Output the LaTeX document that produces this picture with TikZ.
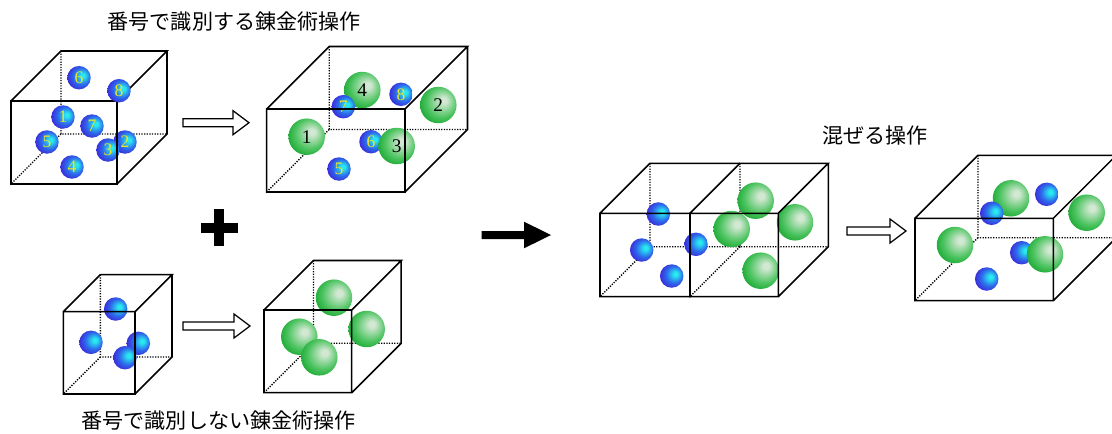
\documentclass[tikz,border=0pt]{standalone}
\usepackage{fontspec}
\newfontfamily\jpfont{Noto Sans CJK JP}
\newfontfamily\numfont{Liberation Serif}
\definecolor{numyellow}{RGB}{235,230,40}
\definecolor{hlblue}{RGB}{40,232,240}
\definecolor{bodyblue}{RGB}{45,105,235}
\definecolor{edgeblue}{RGB}{60,40,215}
\definecolor{hlgreen}{RGB}{210,232,210}
\definecolor{bodygreen}{RGB}{75,195,95}
\definecolor{edgegreen}{RGB}{20,165,45}
\pgfdeclareradialshading{bluesph}{\pgfpoint{9bp}{5bp}}{color(0bp)=(hlblue); color(4bp)=(hlblue); color(18bp)=(bodyblue); color(30bp)=(edgeblue); color(50bp)=(edgeblue)}
\pgfdeclareradialshading{greensph}{\pgfpoint{8bp}{7bp}}{color(0bp)=(hlgreen); color(4bp)=(hlgreen); color(21bp)=(bodygreen); color(32bp)=(edgegreen); color(50bp)=(edgegreen)}
\newcommand{\cubehid}[5]{\draw[hid] (#1+#5,#2-#5) -- (#1+#5,#4-#5) -- (#3+#5,#4-#5) (#1+#5,#4-#5) -- (#1,#4);}
\newcommand{\cubeedge}[5]{\draw[edge] (#1,#2) rectangle (#3,#4) (#1,#2) -- (#1+#5,#2-#5) -- (#3+#5,#2-#5) -- (#3,#2) (#3+#5,#2-#5) -- (#3+#5,#4-#5) -- (#3,#4);}
\newcommand{\hollowarr}[3]{\draw[harrow] (#1,#2-4) -- (#3-16,#2-4) -- (#3-16,#2-12) -- (#3,#2) -- (#3-16,#2+12) -- (#3-16,#2+4) -- (#1,#2+4) -- cycle;}
\tikzset{
  edge/.style={line width=0.9pt},
  hid/.style={line width=0.8pt,dash pattern=on 0.7pt off 0.8pt},
  harrow/.style={line width=0.7pt,fill=white},
  bb/.style={circle,inner sep=0pt,minimum size=0.47cm,shade,shading=bluesph,text=numyellow,font=\numfont\fontsize{10}{10}\selectfont},
  gb/.style={circle,inner sep=0pt,minimum size=0.73cm,shade,shading=greensph,text=black,font=\numfont\fontsize{11}{11}\selectfont},
  lbl/.style={font=\jpfont\fontsize{12}{14}\selectfont}
}
\begin{document}
\begin{tikzpicture}[x=0.02cm,y=-0.02cm]
\useasboundingbox (0,0) rectangle (1112,433);
\node[lbl] (t1) at (234.2,22) {番号で識別する錬金術操作};
\node[lbl] (t2) at (218.7,421) {番号で識別しない錬金術操作};
\node[lbl] (t3) at (875.2,135.7) {混ぜる操作};
\cubehid{11}{101}{117}{184}{50}
\node[bb] (a6) at (79,77.7) {6};
\node[bb] (a1) at (63,117) {1};
\node[bb] (a7) at (92,126) {7};
\node[bb] (a5) at (47,142) {5};
\node[bb] (a2) at (125,142) {2};
\node[bb] (a3) at (108,150) {3};
\node[bb] (a4) at (72,167) {4};
\cubeedge{11}{101}{117}{184}{50}
\node[bb] (a8) at (119,90.7) {8};
\hollowarr{183}{122.7}{249}
\cubehid{266.7}{109}{405}{192}{62.5}
\node[gb] (b4) at (362.3,90) {4};
\node[bb] (b7) at (343.3,106.7) {7};
\node[bb] (b8) at (401,94.3) {8};
\node[gb] (b2) at (438.3,105) {2};
\node[gb] (b1) at (306.7,136.7) {1};
\node[bb] (b6) at (371,141.7) {6};
\node[gb] (b3) at (396.7,146) {3};
\node[bb] (b5) at (339,169) {5};
\cubeedge{266.7}{109}{405}{192}{62.5}
\fill (200.7,222.7) rectangle (237.7,232.7);
\fill (214,209) rectangle (224,245.7);
\cubehid{63.3}{311.7}{135}{394}{37}
\node[bb] (c1) at (115.7,309) {};
\node[bb] (c2) at (91,342.3) {};
\node[bb] (c3) at (138.3,343.3) {};
\node[bb] (c4) at (125,357.7) {};
\cubeedge{63.3}{311.7}{135}{394}{37}
\hollowarr{183}{326}{250}
\cubehid{264}{310}{351.7}{392.7}{49.5}
\node[gb] (d1) at (334,297.7) {};
\node[gb] (d2) at (366.7,329) {};
\node[gb] (d3) at (299.3,336.7) {};
\node[gb] (d4) at (319.3,357.3) {};
\cubeedge{264}{310}{351.7}{392.7}{49.5}
\fill (481.7,231) -- (524,231) -- (524,221.7) -- (551,235) -- (524,248.3) -- (524,239) -- (481.7,239) -- cycle;
\cubehid{600}{213.3}{690}{296.7}{50}
\cubehid{690}{213.3}{778.3}{296.7}{50}
\node[bb] (e1) at (658.3,214) {};
\node[bb] (e2) at (641.7,250) {};
\node[bb] (e3) at (696,244.3) {};
\node[bb] (e4) at (671.7,276) {};
\node[gb] (e5) at (755.7,200.7) {};
\node[gb] (e6) at (731.7,229) {};
\node[gb] (e7) at (795,222.3) {};
\node[gb] (e8) at (760.7,270.7) {};
\draw[edge] (600,213.3) rectangle (690,296.7) (600,213.3) -- (650,163.3) -- (740,163.3);
\cubeedge{690}{213.3}{778.3}{296.7}{50}
\hollowarr{847}{231}{906}
\cubehid{915}{218.3}{1053.3}{300.7}{63}
\node[gb] (f1) at (1011,198.3) {};
\node[bb] (f2) at (1046.7,194.3) {};
\node[bb] (f3) at (991.7,213.3) {};
\node[gb] (f4) at (1086.7,212.7) {};
\node[gb] (f5) at (955,245) {};
\node[bb] (f6) at (1021.7,252.7) {};
\node[gb] (f7) at (1045,254.3) {};
\node[bb] (f8) at (986.7,279) {};
\cubeedge{915}{218.3}{1053.3}{300.7}{63}
\end{tikzpicture}
\end{document}
